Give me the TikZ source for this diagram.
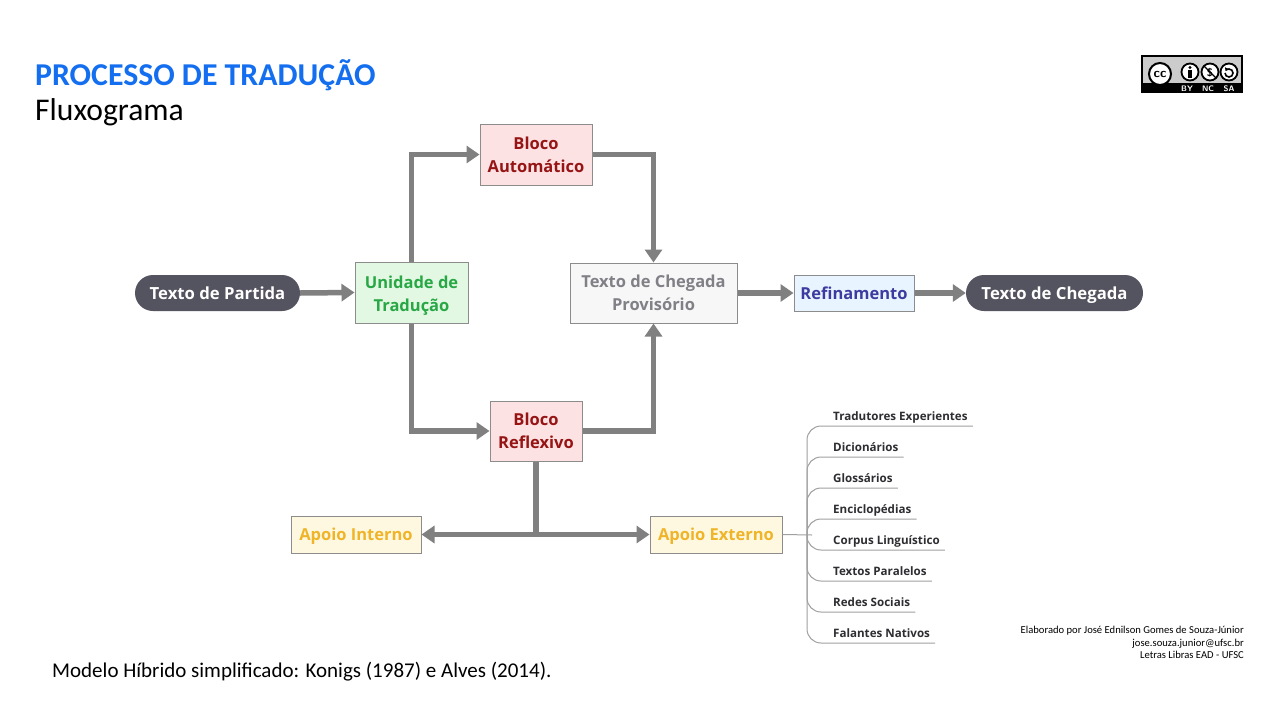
\documentclass[tikz,border=0pt]{standalone}
\usepackage{fontspec}
\setmainfont{Carlito}
\newfontfamily\nf{Open Sans}
\usetikzlibrary{arrows.meta,positioning,calc}
\definecolor{pill}{RGB}{84,84,96}
\definecolor{arrg}{RGB}{128,128,128}
\definecolor{bordg}{RGB}{140,140,140}
\definecolor{grfill}{RGB}{226,248,226}
\definecolor{grtext}{RGB}{40,167,69}
\definecolor{pkfill}{RGB}{253,226,228}
\definecolor{rdtext}{RGB}{150,20,20}
\definecolor{tcfill}{RGB}{247,247,247}
\definecolor{tctext}{RGB}{128,128,135}
\definecolor{blfill}{RGB}{232,244,255}
\definecolor{bltext}{RGB}{60,60,160}
\definecolor{ylfill}{RGB}{255,248,225}
\definecolor{yltext}{RGB}{240,180,40}
\definecolor{titleblue}{RGB}{20,110,240}
\definecolor{treeg}{RGB}{160,160,160}
\definecolor{itemtext}{RGB}{45,45,50}
\tikzset{
  pillbox/.style={fill=pill, text=white, rounded corners=18pt, minimum height=36pt, font=\nf\bfseries\fontsize{16.7}{20}\selectfont, inner sep=0pt, text height=14pt, text depth=1.5pt},
  boxstyle/.style={draw=bordg, line width=1pt, font=\nf\bfseries\fontsize{16.5}{23}\selectfont, align=center, inner sep=0pt},
  onebox/.style={boxstyle, text height=14pt, text depth=1.5pt},
  arr/.style={draw=arrg, line width=5.5pt, line join=miter, -{Triangle[length=13pt,width=17pt]}},
  plainline/.style={draw=arrg, line width=5.5pt},
  treeline/.style={draw=treeg, line width=1pt, rounded corners=14pt},
  itemstyle/.style={font=\nf\bfseries\fontsize{11.6}{13}\selectfont, text=itemtext, anchor=south west, inner xsep=0pt, inner ysep=5pt, text depth=0pt},
}
\begin{document}
\begin{tikzpicture}[x=1pt,y=-1pt]
\useasboundingbox (0,0) rectangle (1280,720);
\fill[white] (0,0) rectangle (1280,720);
% title
\node[anchor=west, inner sep=0pt, font=\bfseries\fontsize{31.8}{34}\selectfont, text=titleblue] (title) at (35,75) {PROCESSO DE TRADUÇÃO};
\node[anchor=west, inner sep=0pt, font=\fontsize{31.6}{34}\selectfont] (sub) at (35,112) {Fluxograma};
% CC logo
\fill[black] (1141,55) rectangle (1243,93);
\fill[black!20] (1143,57) rectangle (1241,83);
\draw[black, line width=2pt, fill=white] (1160,74) circle (11);
\node[font=\sffamily\bfseries\fontsize{13}{13}\selectfont, inner sep=0pt] (ccl) at (1160,74) {cc};
\draw[black, line width=1.8pt, fill=white] (1190,72) circle (8.5);
\fill[black] (1190,67.5) circle (1.6);
\fill[black] (1187.8,70) rectangle (1192.2,78);
\draw[black, line width=1.8pt, fill=white] (1210,72) circle (8.5);
\node[font=\sffamily\bfseries\fontsize{11}{11}\selectfont, inner sep=0pt] (ncl) at (1210,72.5) {\$};
\draw[black, line width=1.3pt] (1204,66) -- (1216,78);
\draw[black, line width=1.8pt, fill=white] (1229,72) circle (8.5);
\draw[black, line width=1.6pt, -{Triangle[length=3pt,width=4.5pt]}] (1225,73) arc (180:-150:4);
\node[font=\sffamily\bfseries\fontsize{8}{8}\selectfont, text=white, inner sep=0pt] (by) at (1187,88.5) {BY};
\node[font=\sffamily\bfseries\fontsize{8}{8}\selectfont, text=white, inner sep=0pt] (nc) at (1208,88.5) {NC};
\node[font=\sffamily\bfseries\fontsize{8}{8}\selectfont, text=white, inner sep=0pt] (sa) at (1229,88.5) {SA};
% nodes
\node[pillbox, minimum width=165pt] (tp) at (217.5,293) {Texto de Partida};
\node[boxstyle, fill=grfill, text=grtext, minimum width=113pt, minimum height=61pt] (ut) at (411.5,292.5) {\rule{0pt}{18pt}Unidade de\\Tradução};
\node[boxstyle, fill=pkfill, text=rdtext, minimum width=112pt, minimum height=61pt] (ba) at (536,154.5) {Bloco\\Automático};
\node[boxstyle, fill=tcfill, text=tctext, minimum width=167pt, minimum height=60pt] (tcp) at (653.5,293) {Texto de Chegada\\Provisório};
\node[onebox, fill=blfill, text=bltext, minimum width=120pt, minimum height=36pt] (ref) at (854,293) {Refinamento};
\node[pillbox, minimum width=177pt] (tc) at (1054.5,293) {Texto de Chegada};
\node[boxstyle, fill=pkfill, text=rdtext, minimum width=92pt, minimum height=60pt] (br) at (536,431) {Bloco\\Reflexivo};
\node[onebox, fill=ylfill, text=yltext, minimum width=130pt, minimum height=37pt] (ai) at (356,534.5) {Apoio Interno};
\node[onebox, fill=ylfill, text=yltext, minimum width=132pt, minimum height=37pt] (ae) at (716,534.5) {Apoio Externo};
% connectors
\draw[arr] (tp.east) -- (ut.west);
\draw[arr] (ut.north) |- (ba.west);
\draw[arr] (ba.east) -| (tcp.north);
\draw[arr] (ut.south) |- (br.west);
\draw[arr] (br.east) -| (tcp.south);
\draw[arr] (tcp.east) -- (ref.west);
\draw[arr] (ref.east) -- (tc.west);
\coordinate (j) at (br.south |- ai.east);
\draw[plainline] (br.south) -- ([yshift=2.75pt]j);
\draw[arr] (j) -- (ai.east);
\draw[arr] (j) -- (ae.west);
% tree
\coordinate (hub) at (807,535);
\draw[treeline] (ae.east) -- ([xshift=5pt]hub);
\node[itemstyle] (i1) at (833,426) {Tradutores Experientes};
\node[itemstyle] (i2) at (833,457) {Dicionários};
\node[itemstyle] (i3) at (833,488) {Glossários};
\node[itemstyle] (i4) at (833,519) {Enciclopédias};
\node[itemstyle] (i5) at (833,550) {Corpus Linguístico};
\node[itemstyle] (i6) at (833,581) {Textos Paralelos};
\node[itemstyle] (i7) at (833,612) {Redes Sociais};
\node[itemstyle] (i8) at (833,643) {Falantes Nativos};
\foreach \i in {1,...,8} {
  \draw[treeline] (hub) |- ([xshift=5pt]i\i.south east);
}
% footer
\node[anchor=west, inner sep=0pt, font=\fontsize{21}{23}\selectfont] (foot) at (52,672) {Modelo Híbrido simplificado: Konigs (1987) e Alves (2014).};
\node[anchor=north east, inner sep=0pt, align=right, font=\fontsize{10.6}{12.5}\selectfont] (cred) at (1244,626) {Elaborado por José Ednilson Gomes de Souza-Júnior\\jose.souza.junior@ufsc.br\\Letras Libras EAD - UFSC};
\end{tikzpicture}
\end{document}
